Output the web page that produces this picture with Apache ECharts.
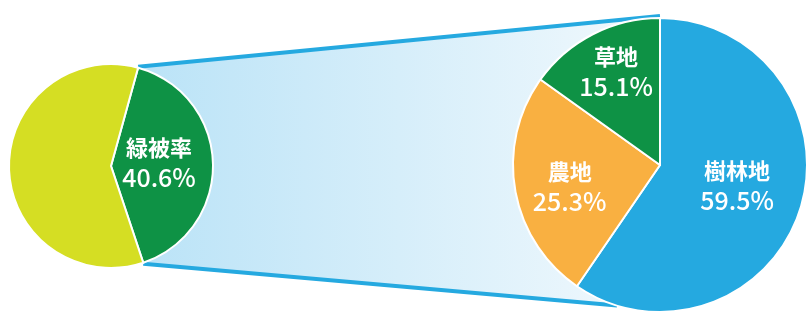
<!DOCTYPE html>
<html>
<head>
<meta charset="utf-8">
<script src="https://cdn.jsdelivr.net/npm/echarts@6/dist/echarts.min.js"></script>
<style>
  html, body { margin: 0; padding: 0; background: #fff; }
  #main { width: 811px; height: 316px; }
</style>
</head>
<body>
<div id="main"></div>
<script>
let chart = echarts.init(document.getElementById('main'));

// 緑被率 (left pie)
const coverNames = ['緑被率', 'その他'];
const coverValues = [40.6, 59.4];
const coverColors = ['#0e9245', '#d5de23'];

// breakdown (right pie)
const landNames = ['樹林地', '農地', '草地'];
const landValues = [59.5, 25.3, 15.1];
const landColors = ['#25a9e0', '#f9b041', '#0e9245'];
// small nudges so labels sit like the original
const landOffsets = [[4, -2], [-15, 8], [-9, -25]];

// layout
const leftC = [111, 166], leftR = 102, leftStart = 74.6;
const rightC = [660, 165], rightR = 147, rightStart = 90;
const bottomEndAngle = -107; // where lower connector meets right pie

function onCircle(c, r, deg) {
    let a = deg * Math.PI / 180;
    return [c[0] + r * Math.cos(a), c[1] - r * Math.sin(a)];
}

// connector follows the green wedge edges of the left pie
let coverTotal = coverValues.reduce((a, b) => a + b, 0);
let greenSweep = coverValues[0] / coverTotal * 360;
let pLT = onCircle(leftC, leftR, leftStart);
let pLB = onCircle(leftC, leftR, leftStart - greenSweep);
let pRT = onCircle(rightC, rightR, rightStart);
let pRB = onCircle(rightC, rightR, bottomEndAngle);

let labelRich = {
    n: { fontSize: 22, fontWeight: 'bold', color: '#fff', lineHeight: 30, fontFamily: 'Noto Sans CJK JP' },
    p: { fontSize: 25, fontWeight: 500, color: '#fff', lineHeight: 30, fontFamily: 'Noto Sans CJK JP' }
};

let option = {
    animation: false,
    graphic: [
        {
            type: 'polygon', z: 0, silent: true,
            shape: { points: [pLT, pRT, pRB, pLB] },
            style: {
                fill: new echarts.graphic.LinearGradient(0, 0, 1, 0, [
                    { offset: 0, color: '#bae3f7' },
                    { offset: 1, color: '#f2f9fd' }
                ])
            }
        },
        {
            type: 'line', z: 1, silent: true,
            shape: { x1: pLT[0], y1: pLT[1] - 1, x2: pRT[0], y2: pRT[1] - 2 },
            style: { stroke: '#25a9e0', lineWidth: 4 }
        },
        {
            type: 'line', z: 1, silent: true,
            shape: { x1: pLB[0], y1: pLB[1] + 1, x2: pRB[0], y2: pRB[1] },
            style: { stroke: '#25a9e0', lineWidth: 4 }
        }
    ],
    series: [
        {
            type: 'pie',
            z: 5,
            center: leftC,
            radius: leftR,
            startAngle: leftStart,
            clockwise: true,
            silent: true,
            itemStyle: { borderColor: '#fff', borderWidth: 2 },
            label: {
                position: 'inside',
                formatter: '{n|{b}}\n{p|{c}%}',
                rich: labelRich
            },
            labelLine: { show: false },
            data: coverNames.map((n, i) => ({
                name: n,
                value: coverValues[i],
                itemStyle: { color: coverColors[i] },
                label: { show: i === 0, offset: [-6, -2] }
            }))
        },
        {
            type: 'pie',
            z: 5,
            center: rightC,
            radius: rightR,
            startAngle: rightStart,
            clockwise: true,
            silent: true,
            itemStyle: { borderColor: '#fff', borderWidth: 2 },
            label: {
                position: 'inside',
                formatter: '{n|{b}}\n{p|{c}%}',
                rich: labelRich
            },
            labelLine: { show: false },
            data: landNames.map((n, i) => ({
                name: n,
                value: landValues[i],
                itemStyle: { color: landColors[i] },
                label: { offset: landOffsets[i] }
            }))
        }
    ]
};

chart.setOption(option);
</script>
</body>
</html>
